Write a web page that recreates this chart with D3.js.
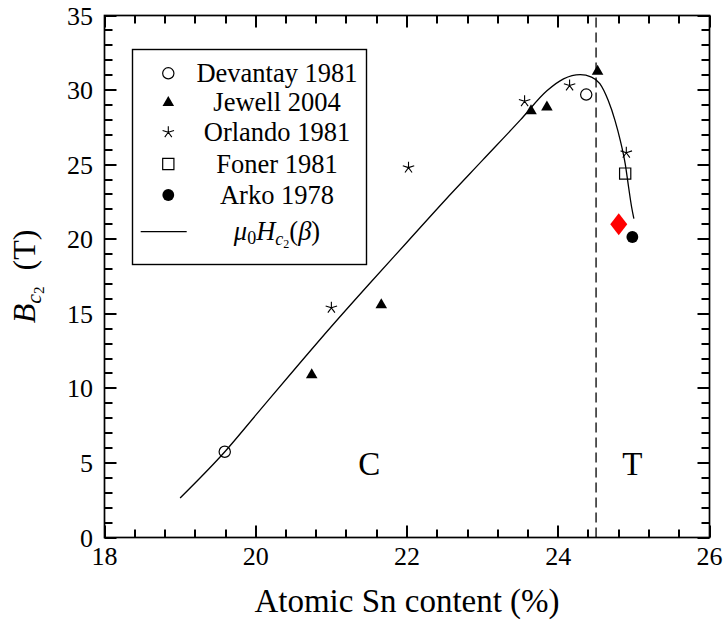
<!DOCTYPE html>
<html>
<head>
<meta charset="utf-8">
<script src="https://cdn.jsdelivr.net/npm/d3@7"></script>
<style>
  html, body { margin: 0; padding: 0; background: #fff; }
  svg { display: block; font-family: "Liberation Serif", "Times New Roman", serif; }
</style>
</head>
<body>
<svg id="chart" width="724" height="620"></svg>
<script>
// Upper critical field of Nb3Sn versus atomic Sn content

// Devantay 1981 (open circles)
const devantaySn = [19.59, 24.37];
const devantayBc2 = [5.75, 29.7];

// Jewell 2004 (filled triangles)
const jewellSn = [20.74, 21.66, 23.64, 23.85, 24.52];
const jewellBc2 = [10.9, 15.6, 28.6, 28.85, 31.25];

// Orlando 1981 (asterisks)
const orlandoSn = [21.0, 22.02, 23.555, 24.15, 24.9];
const orlandoBc2 = [15.4, 24.8, 29.25, 30.3, 25.8];

// Foner 1981 (open square)
const fonerSn = [24.885];
const fonerBc2 = [24.4];

// Arko 1978 (filled circle)
const arkoSn = [24.98];
const arkoBc2 = [20.15];

// highlighted point (red diamond)
const highlightSn = [24.8];
const highlightBc2 = [21.0];

// mu0 Hc2(beta) curve
const curveSn = [19.0, 19.6, 20.0, 20.5, 21.0, 21.5, 22.0, 22.5, 23.0, 23.5, 23.85, 24.07, 24.29, 24.44, 24.55, 24.66, 24.75, 24.82, 24.885, 24.93, 24.97, 25.0];
const curveBc2 = [2.65, 5.8, 8.2, 11.2, 14.15, 17.0, 19.8, 22.6, 25.3, 28.0, 29.95, 30.75, 31.03, 30.87, 30.43, 29.31, 27.97, 26.63, 25.07, 23.5, 22.16, 21.38];

// cubic / tetragonal phase boundary
const phaseBoundary = 24.5;
const phaseLabels = ["C", "T"];
const phaseLabelSn = [21.5, 24.98];
const phaseLabelBc2 = [4.2, 4.2];

const xTicks = [18, 20, 22, 24, 26];
const yTicks = [0, 5, 10, 15, 20, 25, 30, 35];

const legendNames = ["Devantay 1981", "Jewell 2004", "Orlando 1981", "Foner 1981", "Arko 1978"];

const zip = (xs, ys) => xs.map((x, i) => ({ x, y: ys[i] }));

const svg = d3.select("#chart");
const plotL = 104.5, plotR = 709.5, plotT = 15.5, plotB = 537.5;

const x = d3.scaleLinear().domain([18, 26]).range([plotL, plotR]);
const y = d3.scaleLinear().domain([0, 35]).range([plotB, plotT]);

const ink = "#000";

// tick labels
svg.append("g").selectAll("text").data(xTicks).join("text")
  .attr("x", d => x(d)).attr("y", 565)
  .attr("text-anchor", "middle").attr("font-size", 26).text(d => d);
svg.append("g").selectAll("text").data(yTicks).join("text")
  .attr("x", 93).attr("y", d => y(d) + 9)
  .attr("text-anchor", "end").attr("font-size", 26).text(d => d);

// axis titles
svg.append("text").attr("x", (plotL + plotR) / 2).attr("y", 612)
  .attr("text-anchor", "middle").attr("font-size", 33).text("Atomic Sn content (%)");

const yt = svg.append("text")
  .attr("transform", `translate(35,${(plotT + plotB) / 2}) rotate(-90)`)
  .attr("text-anchor", "middle").attr("font-size", 32);
yt.append("tspan").attr("font-style", "italic").text("B");
yt.append("tspan").attr("font-style", "italic").attr("font-size", 22).attr("dy", 6).text("c");
yt.append("tspan").attr("font-size", 15).attr("dy", 3).text("2");
yt.append("tspan").attr("dy", -9).text("\u2002(T)");

// dashed phase boundary
svg.append("line")
  .attr("x1", x(phaseBoundary)).attr("x2", x(phaseBoundary))
  .attr("y1", y(0)).attr("y2", y(35))
  .attr("stroke", ink).attr("stroke-width", 1.3).attr("stroke-dasharray", "10,5");

// phase labels
svg.append("g").selectAll("text").data(phaseLabels).join("text")
  .attr("x", (d, i) => x(phaseLabelSn[i])).attr("y", (d, i) => y(phaseLabelBc2[i]))
  .attr("text-anchor", "middle").attr("font-size", 33).text(d => d);

// model curve
const line = d3.line().x(d => x(d.x)).y(d => y(d.y)).curve(d3.curveMonotoneX);
svg.append("path").datum(zip(curveSn, curveBc2))
  .attr("d", line).attr("fill", "none").attr("stroke", ink).attr("stroke-width", 1.3);

// marker shapes
const circlePath = d3.symbol(d3.symbolCircle, 100)();
const squarePath = d3.symbol(d3.symbolSquare, 126)();
const trianglePath = d3.symbol(d3.symbolTriangle, 58)();
const arkoPath = d3.symbol(d3.symbolCircle, 110)();
const diamondPath = "M0,-11L8.5,0L0,11L-8.5,0Z";
function starPath(r) {
  let p = "";
  for (let k = 0; k < 5; k++) {
    const a = -Math.PI / 2 + k * 2 * Math.PI / 5;
    p += `M0,0L${(r * Math.cos(a)).toFixed(2)},${(r * Math.sin(a)).toFixed(2)}`;
  }
  return p;
}
const asterisk = starPath(6);

const styles = [
  { path: circlePath, fill: "none", stroke: ink, sw: 1.2 },
  { path: trianglePath, fill: ink, stroke: "none", sw: 0 },
  { path: asterisk, fill: "none", stroke: ink, sw: 1.1 },
  { path: squarePath, fill: "none", stroke: ink, sw: 1.2 },
  { path: arkoPath, fill: ink, stroke: "none", sw: 0 }
];

function drawSeries(pts, st) {
  svg.append("g").selectAll("path").data(pts).join("path")
    .attr("transform", d => `translate(${x(d.x)},${y(d.y)})`)
    .attr("d", st.path).attr("fill", st.fill).attr("stroke", st.stroke).attr("stroke-width", st.sw);
}
drawSeries(zip(devantaySn, devantayBc2), styles[0]);
drawSeries(zip(jewellSn, jewellBc2), styles[1]);
drawSeries(zip(orlandoSn, orlandoBc2), styles[2]);
drawSeries(zip(fonerSn, fonerBc2), styles[3]);
drawSeries(zip(arkoSn, arkoBc2), styles[4]);
drawSeries(zip(highlightSn, highlightBc2), { path: diamondPath, fill: "#ff0000", stroke: "none", sw: 0 });

// legend
const lg = svg.append("g");
lg.append("rect").attr("x", 132.5).attr("y", 49.5).attr("width", 234).attr("height", 215)
  .attr("fill", "#fff").attr("stroke", ink).attr("stroke-width", 1.4);
const rowY = [73.3, 102.7, 132.3, 164, 195, 231.7];
legendNames.forEach((name, i) => {
  const st = styles[i];
  lg.append("path").attr("transform", `translate(168.3,${rowY[i]})`)
    .attr("d", st.path).attr("fill", st.fill).attr("stroke", st.stroke).attr("stroke-width", st.sw);
  lg.append("text").attr("x", 277).attr("y", rowY[i] + 8.5)
    .attr("text-anchor", "middle").attr("font-size", 26.5).text(name);
});
lg.append("line").attr("x1", 140.7).attr("x2", 186.7).attr("y1", rowY[5]).attr("y2", rowY[5])
  .attr("stroke", ink).attr("stroke-width", 1.3);
const mt = lg.append("text").attr("x", 277).attr("y", rowY[5] + 8.5)
  .attr("text-anchor", "middle").attr("font-size", 26.5);
mt.append("tspan").attr("font-style", "italic").text("\u03bc");
mt.append("tspan").attr("font-size", 18).attr("dy", 4).text("0");
mt.append("tspan").attr("font-style", "italic").attr("dy", -4).text("H");
mt.append("tspan").attr("font-style", "italic").attr("font-size", 18).attr("dy", 5).text("c");
mt.append("tspan").attr("font-size", 12).attr("dy", 3).text("2");
mt.append("tspan").attr("dy", -8).text("(");
mt.append("tspan").attr("font-style", "italic").text("\u03b2");
mt.append("tspan").text(")");

// frame
svg.append("rect").attr("x", plotL).attr("y", plotT)
  .attr("width", plotR - plotL).attr("height", plotB - plotT)
  .attr("fill", "none").attr("stroke", ink).attr("stroke-width", 1.7);

// inward ticks on all four sides: minor every 0.4 % / 1 T, longer at labelled values
const xMinor = d3.range(0, 21).map(i => 18 + i * 0.4);
const yMinor = d3.range(0, 36);
const ticks = d3.path();
xMinor.forEach((v, i) => {
  const len = i % 5 === 0 ? 12 : 8;
  const px = Math.round(x(v));
  ticks.moveTo(px, plotB); ticks.lineTo(px, plotB - len);
  ticks.moveTo(px, plotT); ticks.lineTo(px, plotT + len);
});
yMinor.forEach(v => {
  const len = v % 5 === 0 ? 12 : 8;
  const py = Math.round(y(v));
  ticks.moveTo(plotL, py); ticks.lineTo(plotL + len, py);
  ticks.moveTo(plotR, py); ticks.lineTo(plotR - len, py);
});
svg.append("path").attr("d", ticks.toString())
  .attr("fill", "none").attr("stroke", ink).attr("stroke-width", 2);
</script>
</body>
</html>
